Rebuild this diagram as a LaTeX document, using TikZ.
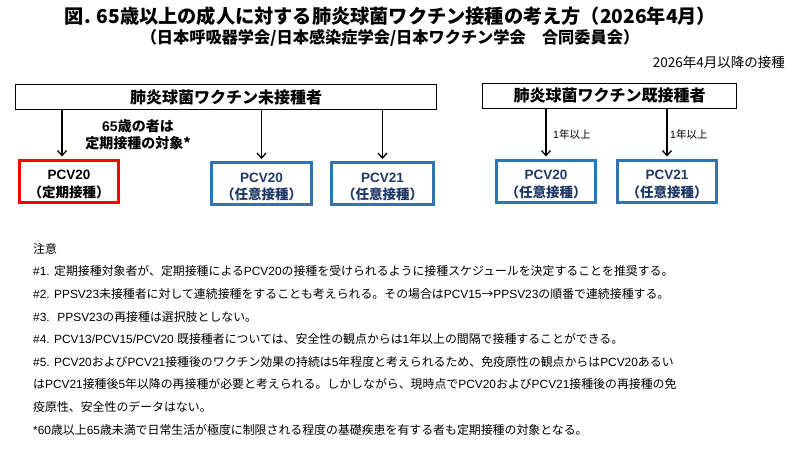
\documentclass[tikz,border=0pt]{standalone}
\usepackage{fontspec}
\setmainfont{Noto Sans CJK JP}
\newfontfamily\westfont{Liberation Sans}
\newcommand\wf[1]{{\westfont#1}}
\newcommand\vaxlabel[2]{\raisebox{-4pt}[\height][\depth]{\begin{tabular}{@{}c@{}}#1\\#2\end{tabular}}}
\usetikzlibrary{positioning,arrows.meta}
\definecolor{regred}{HTML}{FF0000}
\definecolor{optblue}{HTML}{2E75B6}
\definecolor{optnavy}{HTML}{1F3864}

\begin{document}
\begin{tikzpicture}[x=1pt,y=-1pt,
            groupbox/.style={draw=black,line width=1pt,minimum height=25pt,inner sep=0pt,
                font=\fontsize{16}{18}\selectfont\bfseries},
            vaccinebox/.style={line width=3pt,minimum height=42pt,inner sep=0pt,
                font=\fontsize{13.5}{17.5}\selectfont\bfseries},
            regbox/.style={vaccinebox,draw=regred,text=black},
            optbox/.style={vaccinebox,draw=optblue,text=optnavy},
            steplabel/.style={font=\fontsize{10.5}{12}\selectfont,anchor=west,inner sep=0pt},
            link/.style={line width=1.3pt,shorten >=2pt,-{Straight Barb[length=5pt,width=9pt]}}]

            \useasboundingbox (0,0) rectangle (797,451);

            \node[font=\fontsize{19.2}{24}\selectfont\bfseries] (title) at (390.5,16)
            {図. 65歳以上の成人に対する肺炎球菌ワクチン接種の考え方（2026年4月）};
            \node[font=\fontsize{16.2}{18}\selectfont\bfseries] (committee) at (390,38)
            {（日本呼吸器学会/日本感染症学会/日本ワクチン学会　合同委員会）};
            \node[font=\fontsize{13.5}{16}\selectfont,anchor=east,inner sep=0pt] (date) at (785,62)
            {2026年4月以降の接種};

            \node[groupbox,minimum width=421pt] (naive) at (226,97) {肺炎球菌ワクチン未接種者};
            \node[groupbox,minimum width=254pt] (primed) at (609.5,95.5) {肺炎球菌ワクチン既接種者};

            \node[regbox,minimum width=99pt] (routine) at (69,181) {\vaxlabel{\wf{PCV20}}{（定期接種）}};
            \node[optbox,minimum width=100pt] (naivepcvA) at (261.5,183.5) {\vaxlabel{\wf{PCV20}}{（任意接種）}};
            \node[optbox,minimum width=102pt] (naivepcvB) at (382.5,183.5) {\vaxlabel{\wf{PCV21}}{（任意接種）}};
            \node[optbox,minimum width=99pt] (primedpcvA) at (546,181) {\vaxlabel{\wf{PCV20}}{（任意接種）}};
            \node[optbox,minimum width=99pt] (primedpcvB) at (667,181) {\vaxlabel{\wf{PCV21}}{（任意接種）}};

            \draw[link] ([xshift=-7pt]naive.south -| routine.north) -- ([xshift=-7pt]routine.north);
            \draw[link] (naive.south -| naivepcvA.north) -- (naivepcvA.north);
            \draw[link] (naive.south -| naivepcvB.north) -- (naivepcvB.north);
            \draw[link] (primed.south -| primedpcvA.north) -- (primedpcvA.north);
            \draw[link] (primed.south -| primedpcvB.north) -- (primedpcvB.north);

            \node[align=center,font=\fontsize{14}{17}\selectfont\bfseries] (age) at (138,135)
            {\wf{65}歳の者は\\定期接種の対象*};
            \node[steplabel] (intervalA) at (553,134) {\wf{1}年以上};
            \node[steplabel] (intervalB) at (670,134) {\wf{1}年以上};

            \node[anchor=north west,inner sep=0pt,align=left,
                font=\fontsize{11.9}{22.6}\selectfont] (notes) at (33,243)
            {
                注意\\
                \wf{\#1. }定期接種対象者が、定期接種による\wf{PCV20}の接種を受けられるように接種スケジュールを決定することを推奨する。\\
                \wf{\#2. PPSV23}未接種者に対して連続接種をすることも考えられる。その場合は\wf{PCV15}→\wf{PPSV23}の順番で連続接種する。\\
                \wf{\#3. \ PPSV23}の再接種は選択肢としない。\\
                \wf{\#4. PCV13/PCV15/PCV20 }既接種者については、安全性の観点からは\wf{1}年以上の間隔で接種することができる。\\
                \wf{\#5. PCV20}および\wf{PCV21}接種後のワクチン効果の持続は\wf{5}年程度と考えられるため、免疫原性の観点からは\wf{PCV20}あるい\\
                は\wf{PCV21}接種後\wf{5}年以降の再接種が必要と考えられる。しかしながら、現時点で\wf{PCV20}および\wf{PCV21}接種後の再接種の免\\
                疫原性、安全性のデータはない。\\
                \wf{*60}歳以上\wf{65}歳未満で日常生活が極度に制限される程度の基礎疾患を有する者も定期接種の対象となる。
            };
        \end{tikzpicture}
\end{document}
